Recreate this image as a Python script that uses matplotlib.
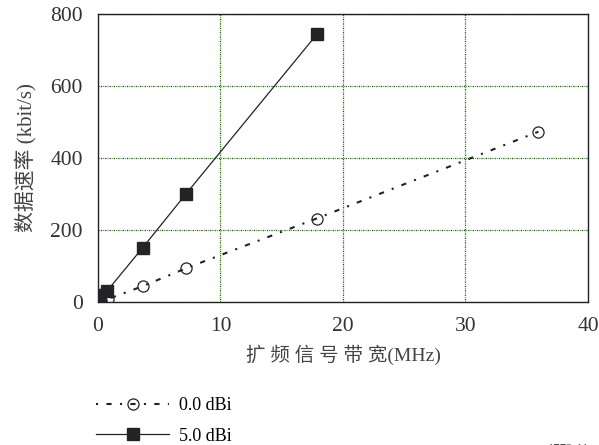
import numpy as np
import matplotlib
matplotlib.use("Agg")
import matplotlib.pyplot as plt

# --- data ---
bw_0dbi = [0.25, 0.8, 3.65, 7.2, 17.85, 35.95]
rate_0dbi = [3, 8, 44, 94, 232, 473]

bw_5dbi = [0.2, 0.75, 3.65, 7.2, 17.9]
rate_5dbi = [19, 31, 151, 301, 745]

xticks = [0, 10, 20, 30, 40]
yticks = [0, 200, 400, 600, 800]
labels = ["0.0 dBi", "5.0 dBi"]

fonts = ["Liberation Serif", "Noto Sans CJK SC"]
plt.rcParams["font.family"] = fonts

fig = plt.figure(figsize=(5.99, 4.45), dpi=100)
ax = fig.add_axes([0.1636, 0.3213, 0.818, 0.6472])

# grid: green dots with dark dots in between
ax.set_xlim(0, 40)
ax.set_ylim(0, 800)
ax.set_xticks(xticks)
ax.set_yticks(yticks)
ax.grid(True, color="#33cc00", linestyle=(0, (1, 2.5)), linewidth=0.9, zorder=0)
ax.vlines(xticks[1:-1], 0, 800, colors="#333333", linestyles=[(1.7, (1, 2.5))],
          linewidth=0.9, zorder=0)
ax.hlines(yticks[1:], 0, 40, colors="#333333", linestyles=[(1.7, (1, 2.5))],
          linewidth=0.9, zorder=0)

ax.plot(bw_0dbi, rate_0dbi, color="#222222", linestyle=(0, (1, 4, 2.5, 4)),
        linewidth=1.5, marker="o", markersize=8, markerfacecolor="none",
        markeredgecolor="#222222", markeredgewidth=0.9, label=labels[0], zorder=3)
ax.plot(bw_5dbi, rate_5dbi, color="#222222", linestyle="-", linewidth=0.9,
        marker="s", markersize=9, markerfacecolor="#222428",
        markeredgecolor="#222428", label=labels[1], zorder=4)

for s in ax.spines.values():
    s.set_linewidth(1.0)
    s.set_color("#222222")
ax.tick_params(length=0, labelsize=15.5, colors="#333333")
ax.tick_params(axis="y", pad=11)
ax.tick_params(axis="x", pad=11)

ax.set_xlabel("扩 频 信 号 带 宽(MHz)", fontsize=14, color="#444444", labelpad=6)
ax.set_ylabel("数据速率 (kbit/s)", fontsize=15, color="#444444", labelpad=10)

h, l = ax.get_legend_handles_labels()
ax.legend(h, l, loc="upper left", bbox_to_anchor=(-0.018, -0.305), frameon=False,
          fontsize=13, handlelength=4.0, handletextpad=0.55, labelspacing=0.75,
          borderaxespad=0)

fig.text(0.915, -0.01, "1779-11", fontsize=9, color="#444444", va="center")

fig.savefig("out.png", dpi=100)
